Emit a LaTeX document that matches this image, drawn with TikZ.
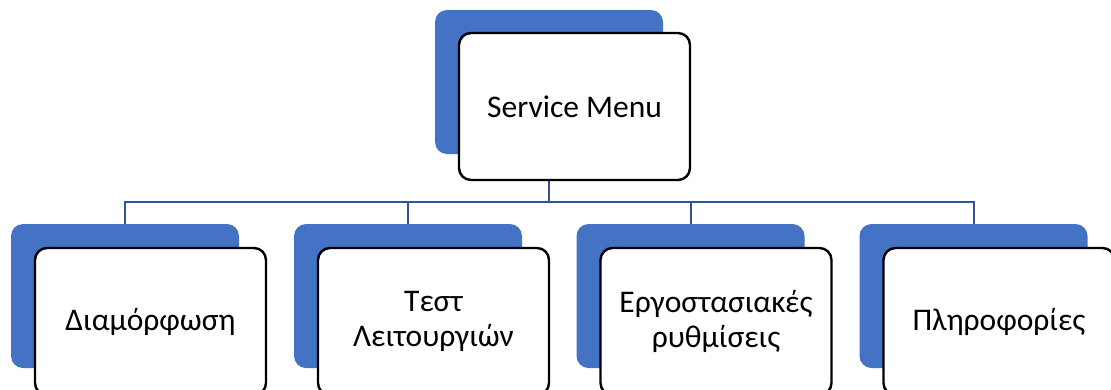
\documentclass[tikz,border=0pt]{standalone}
\usepackage{fontspec}
\setmainfont{Carlito}
\definecolor{accblue}{HTML}{4472C4}
\definecolor{connblue}{HTML}{2F5597}
\begin{document}
\begin{tikzpicture}[x=1pt,y=-1pt,
  backbox/.style={rectangle, rounded corners=12pt, fill=accblue, draw=none,
    minimum width=228pt, minimum height=144pt, inner sep=0pt},
  frontbox/.style={rectangle, rounded corners=12pt, fill=white, draw=black, line width=2.4pt,
    minimum width=231pt, minimum height=147pt, inner sep=0pt, align=center,
    font=\fontsize{31.5}{35}\selectfont},
  conn/.style={draw=connblue, line width=2pt}]
\useasboundingbox (0,0) rectangle (1111,389);
\clip (0,0) rectangle (1111,389);
% back boxes
\node[backbox] (btop) at (549,82) {};
\node[backbox] (b1) at (125,296) {};
\node[backbox] (b2) at (408,296) {};
\node[backbox] (b3) at (690.5,296) {};
\node[backbox] (b4) at (973.5,296) {};
% connectors
\coordinate (bus) at (0,202);
\draw[conn] (btop.south) -- (btop.south |- bus);
\draw[conn] (b1.north) -- (b1.north |- bus) -- (b4.north |- bus) -- (b4.north);
\draw[conn] (b2.north |- bus) -- (b2.north);
\draw[conn] (b3.north |- bus) -- (b3.north);
% front boxes
\node[frontbox] (ftop) at (574.5,106.5) {Service Menu};
\node[frontbox] (f1) at (150.5,321.5) {Διαμόρφωση};
\node[frontbox] (f2) at (433.5,321.5) {Τεστ\\Λειτουργιών};
\node[frontbox] (f3) at (716,321.5) {Εργοστασιακές\\ρυθμίσεις};
\node[frontbox] (f4) at (999,321.5) {Πληροφορίες};
\end{tikzpicture}
\end{document}
